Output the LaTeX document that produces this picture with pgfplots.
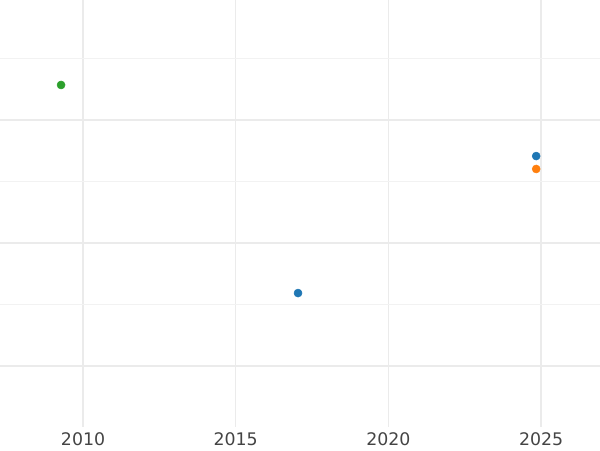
\documentclass[border=0pt]{standalone}
\usepackage{pgfplots}
\pgfplotsset{compat=1.18}
\usepackage{fontspec}
\setmainfont{DejaVu Sans}
\definecolor{tabblue}{HTML}{1F77B4}
\definecolor{taborange}{HTML}{FF7F0E}
\definecolor{tabgreen}{HTML}{2CA02C}
\definecolor{gridmaj}{HTML}{EBEBEB}
\definecolor{gridmin}{HTML}{F2F2F2}
\definecolor{ticktxt}{HTML}{444444}
\begin{document}
\begin{tikzpicture}
\useasboundingbox (0,-17.25pt) rectangle (450pt,320.25pt);
\begin{axis}[
  at={(0,0)}, anchor=south west,
  scale only axis, width=450pt, height=320.25pt,
  xmin=2007.28, xmax=2026.93,
  ymin=-0.496, ymax=2.976,
  axis line style={draw=none},
  xtick={2010,2015,2020,2025},
  ytick={0,1,2},
  minor ytick={-0.5,0.5,1.5,2.5},
  yticklabels={},
  major tick length=0pt, minor tick length=0pt,
  grid=both,
  major grid style={gridmaj, line width=1.1pt},
  minor grid style={gridmin, line width=0.75pt},
  x grid style={gridmaj, line width=0.9pt},
  xticklabel style={font=\fontsize{13}{15}\selectfont, text=ticktxt, yshift=-1pt},
  /pgf/number format/assume math mode=true,
  /pgf/number format/1000 sep={},
  clip=false,
]
\addplot[only marks, mark=*, mark size=3pt, tabgreen, mark options={draw=tabgreen, fill=tabgreen}] coordinates {(2009.28,2.285)};
\addplot[only marks, mark=*, mark size=3pt, tabblue, mark options={draw=tabblue, fill=tabblue}] coordinates {(2017.04,0.593) (2024.84,1.707)};
\addplot[only marks, mark=*, mark size=3pt, taborange, mark options={draw=taborange, fill=taborange}] coordinates {(2024.84,1.602)};
\end{axis}
\end{tikzpicture}
\end{document}
